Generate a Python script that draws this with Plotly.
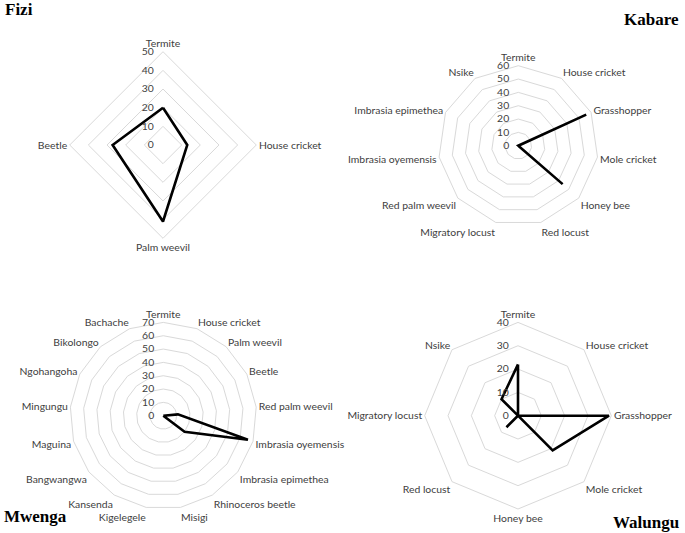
import plotly.graph_objects as go

# ---------------- data ----------------
fizi_cats = ["Termite", "House cricket", "Palm weevil", "Beetle"]
fizi_vals = [20, 13, 41, 27]

kabare_cats = ["Termite", "House cricket", "Grasshopper", "Mole cricket", "Honey bee",
               "Red locust", "Migratory locust", "Red palm weevil", "Imbrasia oyemensis",
               "Imbrasia epimethea", "Nsike"]
kabare_vals = [0, 0, 56, 0, 44, 0, 0, 0, 0, 0, 0]

mwenga_cats = ["Termite", "House cricket", "Palm weevil", "Beetle", "Red palm weevil",
               "Imbrasia oyemensis", "Imbrasia epimethea", "Rhinoceros beetle", "Misigi",
               "Kigelegele", "Kansenda", "Bangwangwa", "Maguina", "Mingungu",
               "Ngohangoha", "Bikolongo", "Bachache"]
mwenga_vals = [0, 0, 0, 0, 11, 66, 20, 0, 0, 0, 0, 0, 0, 0, 0, 0, 0]

walungu_cats = ["Termite", "House cricket", "Grasshopper", "Mole cricket", "Honey bee",
                "Red locust", "Migratory locust", "Nsike"]
walungu_vals = [22, 0, 39, 21, 0, 7, 0, 10]

titles = ["Fizi", "Kabare", "Mwenga", "Walungu"]
ranges = [50, 60, 70, 40]

W, H = 685, 533
# centre (px) and radius (px) of each radar
geo = [(163, 145, 93.3), (518.3, 145.7, 80), (163.3, 415.7, 93.3), (518, 415.7, 93.3)]

fig = go.Figure()
datasets = [(fizi_cats, fizi_vals), (kabare_cats, kabare_vals),
            (mwenga_cats, mwenga_vals), (walungu_cats, walungu_vals)]

tickfont = dict(family="Lato", size=10.4, color="#404040")
for i, ((cats, vals), (cx, cy, r), rmax) in enumerate(zip(datasets, geo, ranges)):
    name = "polar" if i == 0 else f"polar{i+1}"
    fig.add_trace(go.Scatterpolar(
        r=vals + [vals[0]], theta=cats + [cats[0]], mode="lines",
        line=dict(color="black", width=2.6), subplot=name, showlegend=False,
        hoverinfo="skip"))
    fig.layout[name] = dict(
        domain=dict(x=[(cx - r) / W, (cx + r) / W],
                    y=[1 - (cy + r) / H, 1 - (cy - r) / H]),
        gridshape="linear",
        bgcolor="white",
        radialaxis=dict(range=[0, rmax], dtick=10, showline=False,
                        ticks="outside", ticklen=5, tickcolor="rgba(0,0,0,0)",
                        gridcolor="#d9d9d9", gridwidth=1, angle=90, tickangle=90,
                        side="counterclockwise", tickfont=tickfont),
        angularaxis=dict(rotation=90, direction="clockwise", showgrid=False,
                         showline=True, linecolor="#d9d9d9", linewidth=1,
                         ticks="", tickfont=tickfont),
    )

tfont = dict(family="Liberation Serif", size=17, color="black")
ann = [("<b>Fizi</b>", 3, 9, "left"), ("<b>Kabare</b>", 681, 19, "right"),
       ("<b>Mwenga</b>", 2, 516, "left"), ("<b>Walungu</b>", 681, 522, "right")]
for t, x, y, xa in ann:
    fig.add_annotation(text=t, x=x / W, y=1 - y / H, xref="paper", yref="paper",
                       xanchor=xa, yanchor="middle", showarrow=False, font=tfont)

fig.update_layout(width=W, height=H, autosize=False,
                  margin=dict(l=0, r=0, t=0, b=0),
                  paper_bgcolor="white", plot_bgcolor="white")
fig.write_html("out.html", config={"displayModeBar": False},
               post_script="document.body.style.margin='0';")
